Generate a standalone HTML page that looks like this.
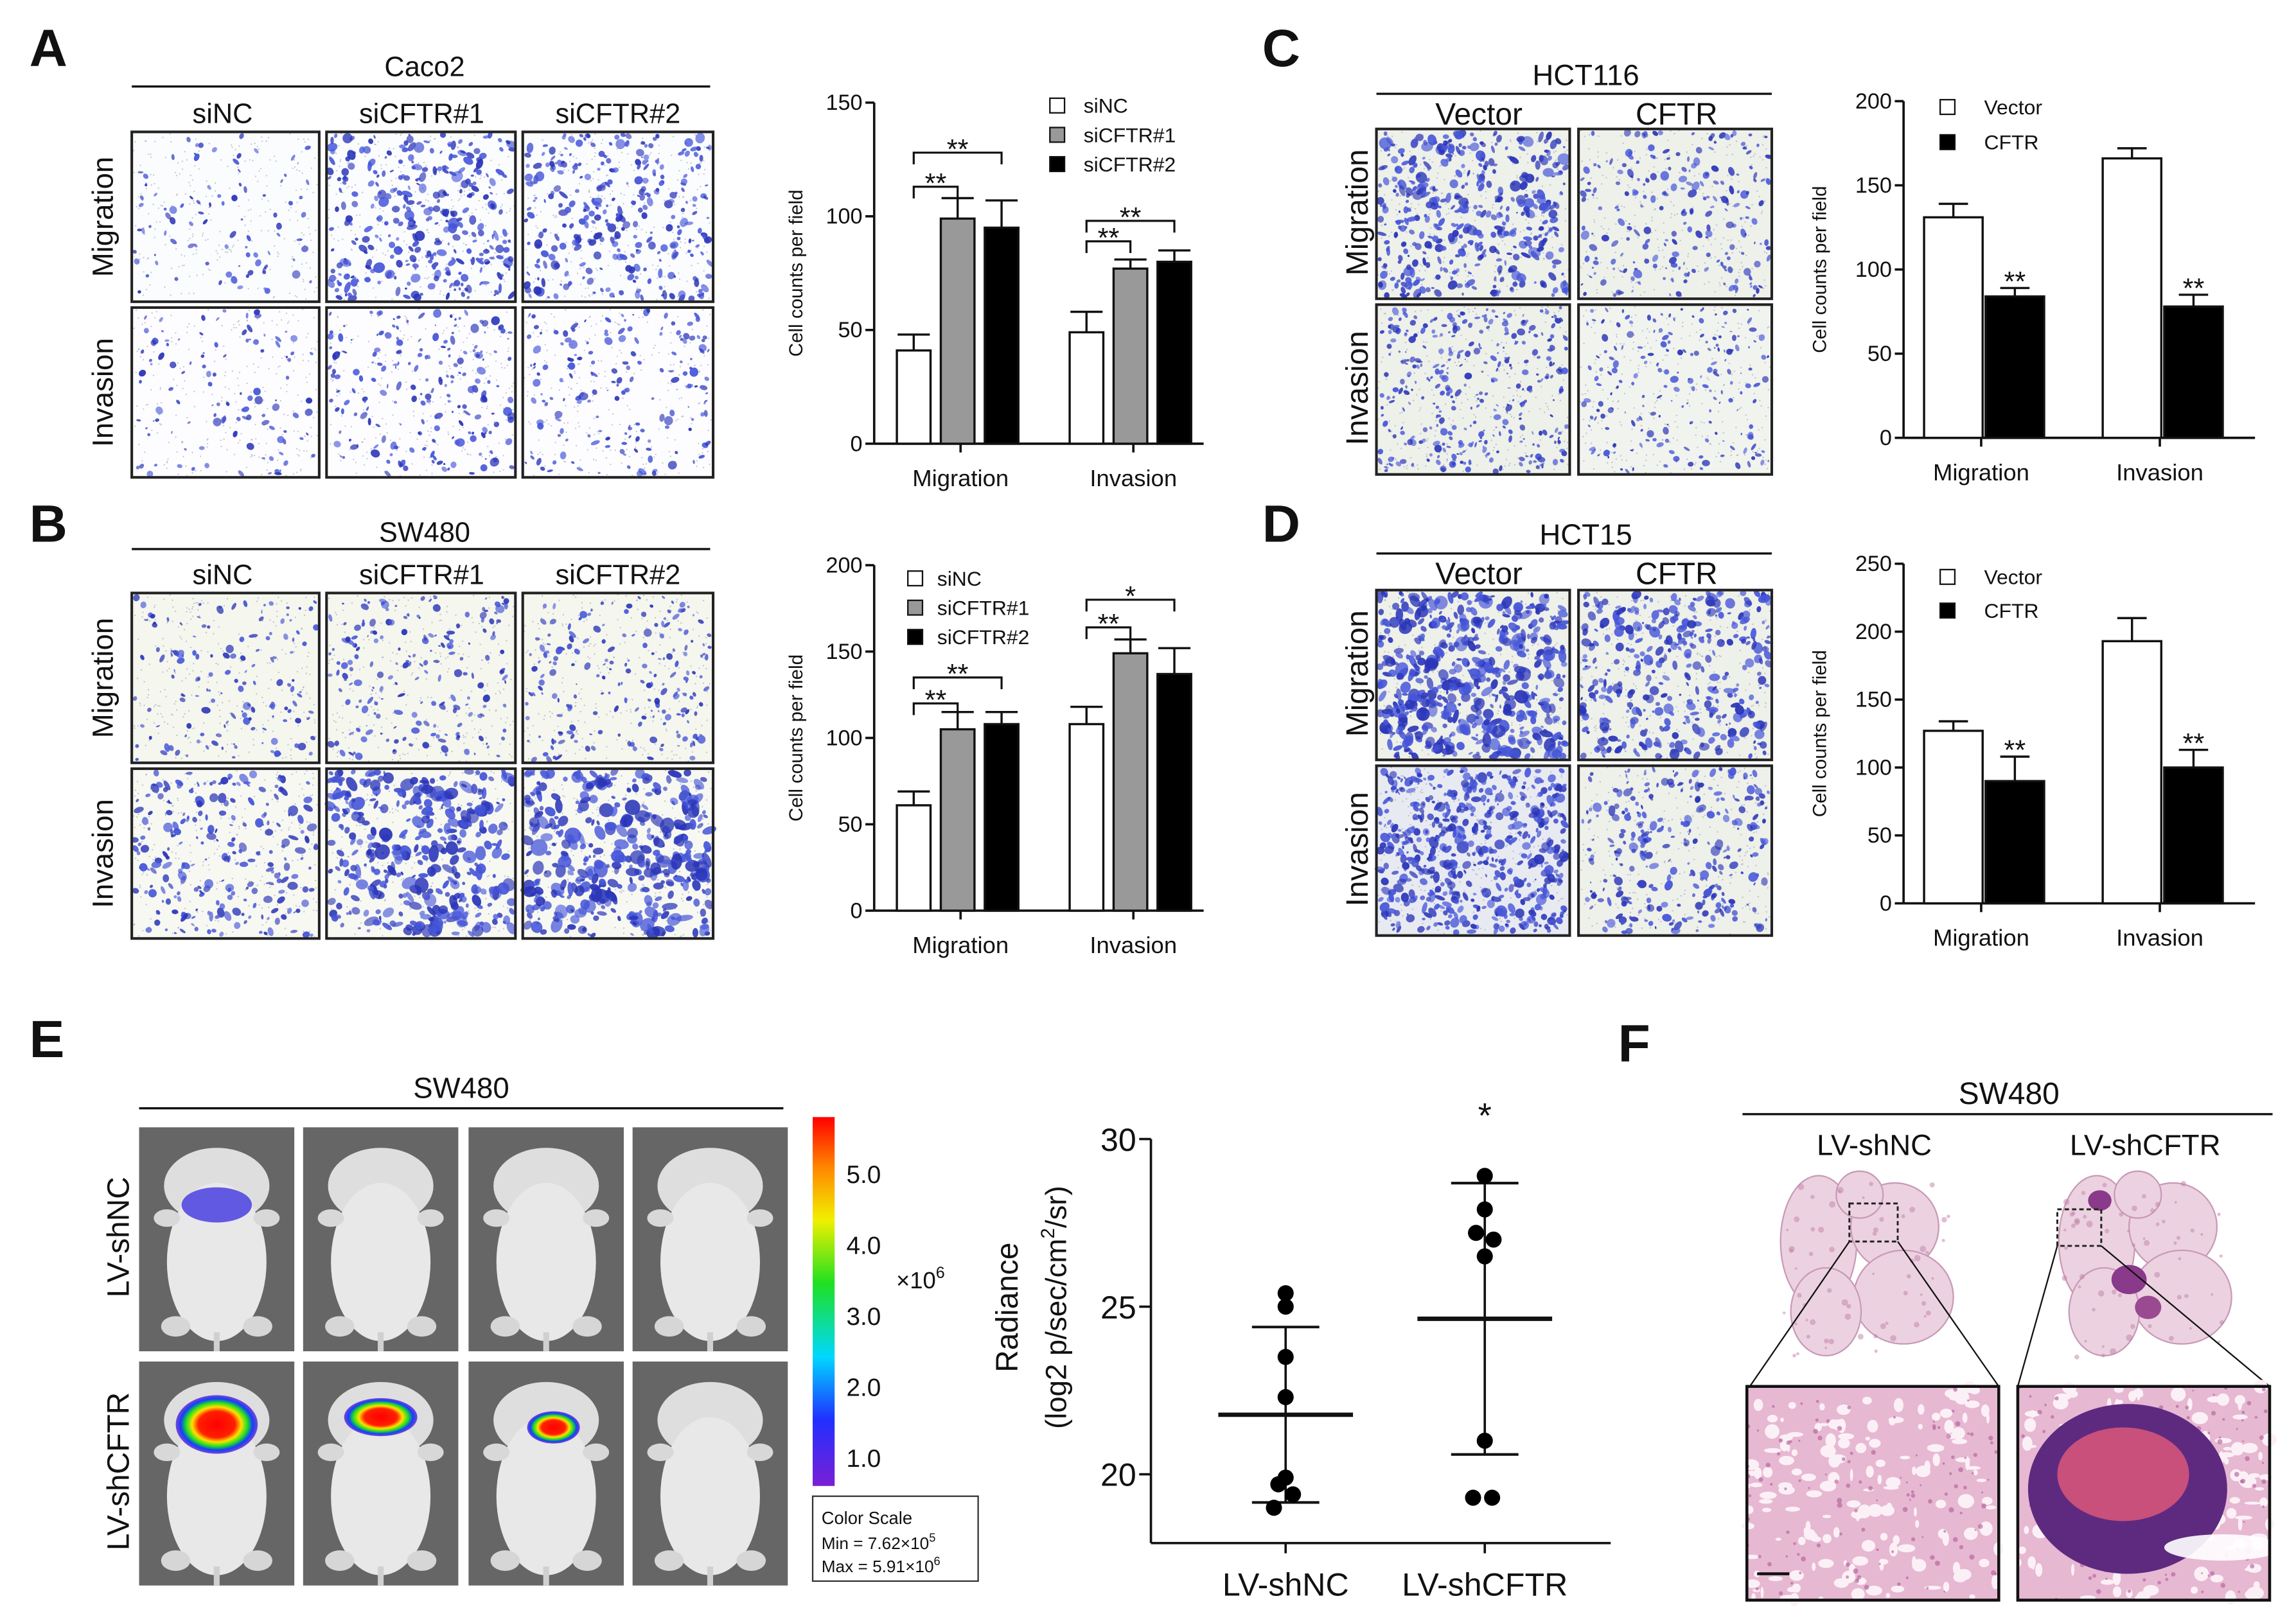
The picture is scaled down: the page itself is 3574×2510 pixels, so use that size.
<!DOCTYPE html>
<html><head><meta charset="utf-8"><style>
html,body{margin:0;padding:0;background:#fff}
svg{display:block}
text{font-family:"Liberation Sans",Arial,sans-serif;fill:#111}
</style></head><body>
<svg id="fig" xmlns="http://www.w3.org/2000/svg" width="3574" height="2510" viewBox="0 0 1568 1101">
<defs>
<linearGradient id="cbar" x1="0" y1="1" x2="0" y2="0">
<stop offset="0" stop-color="#7a1fd6"/><stop offset="0.18" stop-color="#2030ff"/><stop offset="0.35" stop-color="#00d8ff"/><stop offset="0.55" stop-color="#20e020"/><stop offset="0.72" stop-color="#f0f000"/><stop offset="0.86" stop-color="#ff8a00"/><stop offset="1" stop-color="#ff0000"/>
</linearGradient>
<radialGradient id="hot"><stop offset="0" stop-color="#ff0000"/><stop offset="0.45" stop-color="#ff2000"/><stop offset="0.6" stop-color="#ffe000"/><stop offset="0.75" stop-color="#20e020"/><stop offset="0.88" stop-color="#1040ff"/><stop offset="1" stop-color="#6020d0" stop-opacity="0.8"/></radialGradient>
</defs>
<g id="layer"></g>
</svg>
<script>
// ---------- chart data ----------
const barCats = ["Migration","Invasion"];
// A (Caco2)
const aSiNC = [41, 49];
const aSiNCErr = [7, 9];
const aSi1 = [99, 77];
const aSi1Err = [9, 4];
const aSi2 = [95, 80];
const aSi2Err = [12, 5];
const aTicks = [0, 50, 100, 150];
// B (SW480)
const bSiNC = [61, 108];
const bSiNCErr = [8, 10];
const bSi1 = [105, 149];
const bSi1Err = [10, 8];
const bSi2 = [108, 137];
const bSi2Err = [7, 15];
const bTicks = [0, 50, 100, 150, 200];
// C (HCT116)
const cVector = [131, 166];
const cVectorErr = [8, 6];
const cCFTR = [84, 78];
const cCFTRErr = [5, 7];
const cTicks = [0, 50, 100, 150, 200];
// D (HCT15)
const dVector = [127, 193];
const dVectorErr = [7, 17];
const dCFTR = [90, 100];
const dCFTRErr = [18, 13];
const dTicks = [0, 50, 100, 150, 200, 250];
// E scatter
const eGroups = ["LV-shNC","LV-shCFTR"];
const eShNC = [25.4, 25.0, 23.5, 22.3, 19.9, 19.7, 19.4, 19.0];
const eShCFTR = [28.9, 27.9, 27.2, 27.0, 26.5, 21.0, 19.3, 19.3];
const eTicks = [20, 25, 30];
const eColorTicks = ["5.0","4.0","3.0","2.0","1.0"];

const NS="http://www.w3.org/2000/svg";
const root=document.getElementById('layer');
function mk(tag,attrs,parent,txt){const e=document.createElementNS(NS,tag);for(const k in attrs)e.setAttribute(k,attrs[k]);if(txt!==undefined)e.textContent=txt;(parent||root).appendChild(e);return e;}
function line(x1,y1,x2,y2,w,p,c){return mk('line',{x1,y1,x2,y2,stroke:c||'#111','stroke-width':w||1.5},p);}

let seed=12345;function rnd(){seed=(seed*16807)%2147483647;return (seed-1)/2147483646;}

function panelLetter(t,x,y){const e=mk('text',{x,y,'font-size':36,'font-weight':'bold'},root,t);

}

function micro(x,y,w,h,n,rmin,rmax,bg,name){
 const g=mk('g',{});
 
 
 mk('rect',{x,y,width:w,height:h,fill:bg},g);
 for(let i=0;i<260;i++){mk('circle',{cx:x+1+rnd()*(w-2),cy:y+1+rnd()*(h-2),r:0.5,fill:'#8890a8','fill-opacity':0.5},g);}
 for(let i=0;i<n;i++){const r=rmin+rnd()*(rmax-rmin);const cx=x+2+rnd()*(w-4),cy=y+2+rnd()*(h-4);
  const rx=Math.min(r*(0.5+rnd()*1.0),cx-x,x+w-cx),ry=Math.min(r*(0.5+rnd()*1.0),cy-y,y+h-cy);
  mk('ellipse',{cx,cy,rx:Math.max(rx,0.3),ry:Math.max(ry,0.3),fill:rnd()<0.5?'#2a35b8':'#4555d8','fill-opacity':0.6+rnd()*0.35,transform:`rotate(${Math.floor(rnd()*180)} ${cx} ${cy})`},g);}
 mk('rect',{x,y,width:w,height:h,fill:'none',stroke:'#222','stroke-width':1.8},g);
}
function rowLabel(t,x,cy,name,fs){const e=mk('text',{x,y:cy,'font-size':fs||20,'text-anchor':'middle',transform:`rotate(-90 ${x} ${cy})`},root,t);

}
function ctext(t,x,y,fs,name,anchor){const e=mk('text',{x,y,'font-size':fs,'text-anchor':anchor||'middle'},root,t);

return e;}

// ---------- Bar chart ----------
function barChart(o){
 const g=mk('g',{});
 
 
 const yS=v=>o.y0-(v/o.ymax)*(o.y0-o.yTop);
 const xC=i=>o.x0+o.pad+(i+0.5)*o.band;
 line(o.x0,o.yTop,o.x0,o.y0,1.6,g);
 line(o.x0,o.y0,o.xEnd,o.y0,1.6,g);
 o.ticks.forEach(t=>{line(o.x0-6,yS(t),o.x0,yS(t),1.6,g);
  const tl=mk('text',{x:o.x0-8,y:yS(t)+5,'font-size':15,'text-anchor':'end'},g,String(t));
  
  });
 const yt=mk('text',{x:o.ytX,y:(o.y0+o.yTop)/2,'font-size':13,'text-anchor':'middle',transform:`rotate(-90 ${o.ytX} ${(o.y0+o.yTop)/2})`},g,'Cell counts per field');
 
 
 barCats.forEach((c,i)=>{line(xC(i),o.y0,xC(i),o.y0+6,1.6,g);
  const cl=mk('text',{x:xC(i),y:o.y0+29,'font-size':16,'text-anchor':'middle'},g,c);
  
  });
 o.series.forEach((s,si)=>{
  s.vals.forEach((v,i)=>{
   const cx=xC(i)+o.offs[si];const top=yS(v);const et=yS(v+s.err[i]);
   line(cx,top,cx,et,1.5,g);line(cx-o.capW,et,cx+o.capW,et,1.5,g);
   const b=mk('rect',{x:cx-o.bw/2,y:top,width:o.bw,height:o.y0-top,fill:s.fill,stroke:'#111','stroke-width':1.5},g);
   
   
   if(s.star){const st=mk('text',{x:cx,y:et+2,'font-size':19,'text-anchor':'middle'},g,'**');
    
    }
  });
 });
 o.series.forEach((s,si)=>{const ly=o.legY+si*o.legDy;
  const r=mk('rect',{x:o.legX,y:ly-10,width:10,height:10,fill:s.fill,stroke:'#111','stroke-width':1},g);
  
  
  const t=mk('text',{x:o.legX+o.legTx,y:ly,'font-size':14},g,s.label);
  
  });
 (o.brackets||[]).forEach(b=>{
  const x1=xC(b.cat)+o.offs[0],x2=xC(b.cat)+o.offs[b.to];
  const by=yS(b.at);
  mk('path',{d:`M${x1} ${by+8}V${by}H${x2}V${by+8}`,fill:'none',stroke:'#111','stroke-width':1.4},g);
  const st=mk('text',{x:(x1+x2)/2,y:by+4,'font-size':19,'text-anchor':'middle'},g,b.txt);
  
  
 });
}

// ---------- Panel A ----------
panelLetter('A',20,45);
ctext('Caco2',290,52,19,'panel-a-title');line(90,59,485,59,1.5);
ctext('siNC',152,84,19,'col-label-sinc');ctext('siCFTR#1',288,84,19,'col-label-sicftr1');ctext('siCFTR#2',422,84,19,'col-label-sicftr2');
rowLabel('Migration',77,148,'row-label-migration');rowLabel('Invasion',77,268,'row-label-invasion');
const colsA=[[90,128],[223,129],[357,130]];
[[90,0.8,2],[320,1,2.8],[300,1,2.6]].forEach((p,i)=>micro(colsA[i][0],90,colsA[i][1],116,p[0],p[1],p[2],'#fbfcfe','micrograph-a-migration-'+(i+1)));
[[110,0.8,2.2],[200,0.8,2.3],[170,0.8,2.3]].forEach((p,i)=>micro(colsA[i][0],210,colsA[i][1],116,p[0],p[1],p[2],'#fdfdff','micrograph-a-invasion-'+(i+1)));
barChart({name:'chart-a',x0:597,xEnd:822,y0:303,yTop:70,ymax:150,ticks:aTicks,pad:0,band:118,offs:[-32,-2,28],bw:23,capW:11,ytX:548,
 series:[{key:'sinc',label:'siNC',fill:'#fff',vals:aSiNC,err:aSiNCErr},{key:'sicftr1',label:'siCFTR#1',fill:'#999',vals:aSi1,err:aSi1Err},{key:'sicftr2',label:'siCFTR#2',fill:'#000',vals:aSi2,err:aSi2Err}],
 legX:717,legY:77,legDy:20,legTx:23,
 brackets:[{cat:0,to:1,at:113,txt:'**'},{cat:0,to:2,at:128,txt:'**'},{cat:1,to:1,at:89,txt:'**'},{cat:1,to:2,at:98,txt:'**'}]});

// ---------- Panel B ----------
panelLetter('B',20,370);
ctext('SW480',290,370,19,'panel-b-title');line(90,375,485,375,1.5);
ctext('siNC',152,399,19,'col-label-sinc');ctext('siCFTR#1',288,399,19,'col-label-sicftr1');ctext('siCFTR#2',422,399,19,'col-label-sicftr2');
rowLabel('Migration',77,463,'row-label-migration');rowLabel('Invasion',77,583,'row-label-invasion');
[[140,0.8,2.2],[190,0.8,2.2],[190,0.8,2.2]].forEach((p,i)=>micro(colsA[i][0],405,colsA[i][1],116,p[0],p[1],p[2],'#f5f6ee','micrograph-b-migration-'+(i+1)));
[[230,0.8,2.8],[360,1.2,4],[380,1.2,4.2]].forEach((p,i)=>micro(colsA[i][0],525,colsA[i][1],116,p[0],p[1],p[2],'#f7f8f2','micrograph-b-invasion-'+(i+1)));
barChart({name:'chart-b',x0:597,xEnd:822,y0:622,yTop:386,ymax:200,ticks:bTicks,pad:0,band:118,offs:[-32,-2,28],bw:23,capW:11,ytX:548,
 series:[{key:'sinc',label:'siNC',fill:'#fff',vals:bSiNC,err:bSiNCErr},{key:'sicftr1',label:'siCFTR#1',fill:'#999',vals:bSi1,err:bSi1Err},{key:'sicftr2',label:'siCFTR#2',fill:'#000',vals:bSi2,err:bSi2Err}],
 legX:620,legY:400,legDy:20,legTx:20,
 brackets:[{cat:0,to:1,at:120,txt:'**'},{cat:0,to:2,at:135,txt:'**'},{cat:1,to:1,at:164,txt:'**'},{cat:1,to:2,at:180,txt:'*'}]});

// ---------- Panel C ----------
panelLetter('C',862,45);
ctext('HCT116',1083,58,20,'panel-c-title');line(940,64,1210,64,1.5);
ctext('Vector',1010,85,21,'col-label-vector');ctext('CFTR',1145,85,21,'col-label-cftr');
rowLabel('Migration',934,145,'row-label-migration',21);rowLabel('Invasion',934,265,'row-label-invasion',21);
micro(940,88,132,116,420,1,3,'#eef0ea','micrograph-c-migration-vector');
micro(1078,88,132,116,220,0.8,2.3,'#eef0ea','micrograph-c-migration-cftr');
micro(940,208,132,116,340,0.7,2,'#eef0ea','micrograph-c-invasion-vector');
micro(1078,208,132,116,190,0.7,2,'#f1f3ee','micrograph-c-invasion-cftr');
barChart({name:'chart-c',x0:1300,xEnd:1540,y0:299,yTop:69,ymax:200,ticks:cTicks,pad:-8,band:122,offs:[-19,23],bw:40,capW:10,ytX:1247,
 series:[{key:'vector',label:'Vector',fill:'#fff',vals:cVector,err:cVectorErr},{key:'cftr',label:'CFTR',fill:'#000',vals:cCFTR,err:cCFTRErr,star:true}],
 legX:1325,legY:78,legDy:24,legTx:30});

// ---------- Panel D ----------
panelLetter('D',862,370);
ctext('HCT15',1083,372,20,'panel-d-title');line(940,378,1210,378,1.5);
ctext('Vector',1010,399,21,'col-label-vector');ctext('CFTR',1145,399,21,'col-label-cftr');
rowLabel('Migration',934,460,'row-label-migration',21);rowLabel('Invasion',934,580,'row-label-invasion',21);
micro(940,403,132,116,520,1.2,3.6,'#eef0ea','micrograph-d-migration-vector');
micro(1078,403,132,116,360,1,3,'#eef0ea','micrograph-d-migration-cftr');
micro(940,523,132,116,560,1,2.8,'#e8eaf2','micrograph-d-invasion-vector');
micro(1078,523,132,116,280,0.8,2.6,'#eef0ea','micrograph-d-invasion-cftr');
barChart({name:'chart-d',x0:1300,xEnd:1540,y0:617,yTop:385,ymax:250,ticks:dTicks,pad:-8,band:122,offs:[-19,23],bw:40,capW:10,ytX:1247,
 series:[{key:'vector',label:'Vector',fill:'#fff',vals:dVector,err:dVectorErr},{key:'cftr',label:'CFTR',fill:'#000',vals:dCFTR,err:dCFTRErr,star:true}],
 legX:1325,legY:399,legDy:23,legTx:30});

// ---------- Panel E ----------
panelLetter('E',20,722);
ctext('SW480',315,750,20,'panel-e-title');line(95,757,535,757,1.5);
rowLabel('LV-shNC',88,845,'row-label-lv-shnc',21);rowLabel('LV-shCFTR',88,1005,'row-label-lv-shcftr',21);
const mx=[95,207,320,432];
function mouse(x,y,i,row){
 const g=mk('g',{});
 
 
 mk('rect',{x,y,width:106,height:153,fill:'#666'},g);
 const cx=x+53;
 mk('ellipse',{cx,cy:y+40,rx:36,ry:26,fill:'#dedede'},g);
 mk('ellipse',{cx,cy:y+92,rx:34,ry:54,fill:'#e8e8e8'},g);
 mk('ellipse',{cx:cx-34,cy:y+62,rx:9,ry:6,fill:'#d8d8d8'},g);
 mk('ellipse',{cx:cx+34,cy:y+62,rx:9,ry:6,fill:'#d8d8d8'},g);
 mk('ellipse',{cx:cx-28,cy:y+136,rx:10,ry:7,fill:'#d6d6d6'},g);
 mk('ellipse',{cx:cx+28,cy:y+136,rx:10,ry:7,fill:'#d6d6d6'},g);
 mk('rect',{x:cx-2,y:y+140,width:4,height:13,fill:'#d0d0d0'},g);
 return g;
}
mx.forEach((x,i)=>mouse(x,770,i,'shnc'));
mx.forEach((x,i)=>mouse(x,930,i,'shcftr'));
mk('ellipse',{cx:148,cy:823,rx:24,ry:12,fill:'#4a40e0','fill-opacity':0.85});
mk('ellipse',{cx:148,cy:973,rx:28,ry:20,fill:'url(#hot)'});
mk('ellipse',{cx:260,cy:968,rx:25,ry:13,fill:'url(#hot)'});
mk('ellipse',{cx:378,cy:975,rx:18,ry:11,fill:'url(#hot)'});
const cb=mk('rect',{x:555,y:763,width:15,height:252,fill:'url(#cbar)'});


eColorTicks.forEach((t,i)=>ctext(t,578,808+i*48.5,17,'color-scale-tick','start'));
const x6=ctext('×10',612,880,16,'color-scale-exponent','start');
mk('tspan',{dy:-7,'font-size':11},x6,'6');
const csb=mk('rect',{x:555,y:1022,width:113,height:58,fill:'#fff',stroke:'#333','stroke-width':1});


ctext('Color Scale',561,1041,12,'color-scale-title','start');
const mn=ctext('Min = 7.62×10',561,1058,11.5,'color-scale-min','start');mk('tspan',{dy:-5,'font-size':8},mn,'5');
const mxx=ctext('Max = 5.91×10',561,1074,11.5,'color-scale-max','start');mk('tspan',{dy:-5,'font-size':8},mxx,'6');

// scatter chart E
(function(){
 const g=mk('g',{});
 
 
 const x0=786,y20=1007,y30=778,yBase=1054;
 const yS=v=>y20-(v-20)*(y20-y30)/10;
 const xG=i=>878+i*136;
 line(x0,y30,x0,yBase,1.6,g);line(x0,yBase,1100,yBase,1.6,g);
 eTicks.forEach(t=>{line(x0-8,yS(t),x0,yS(t),1.6,g);
  const tl=mk('text',{x:x0-10,y:yS(t)+8,'font-size':22,'text-anchor':'end'},g,String(t));
  
  });
 const yt1=mk('text',{x:695,y:893,'font-size':21,'text-anchor':'middle',transform:'rotate(-90 695 893)'},g,'Radiance');
 
 
 const yt2=mk('text',{x:728,y:893,'font-size':20,'text-anchor':'middle',transform:'rotate(-90 728 893)'},g,'(log2 p/sec/cm');
 
 
 mk('tspan',{dy:-8,'font-size':13},yt2,'2');mk('tspan',{dy:8},yt2,'/sr)');
 const jit=[-6,6,-6,6,0,-5,5,-8];
 [eShNC,eShCFTR].forEach((arr,gi)=>{
  const cx=xG(gi);
  line(cx,yBase,cx,yBase+7,1.6,g);
  const gl=mk('text',{x:cx,y:yBase+36,'font-size':22,'text-anchor':'middle'},g,eGroups[gi]);
  
  
  const m=arr.reduce((a,b)=>a+b,0)/arr.length;
  const sd=Math.sqrt(arr.reduce((a,b)=>a+(b-m)*(b-m),0)/(arr.length-1));
  line(cx,yS(m+sd),cx,yS(m-sd),1.6,g);
  line(cx-23,yS(m+sd),cx+23,yS(m+sd),1.8,g);line(cx-23,yS(m-sd),cx+23,yS(m-sd),1.8,g);
  line(cx-46,yS(m),cx+46,yS(m),3,g);
  arr.forEach((v,i)=>{const p=mk('circle',{cx:cx+(i>=4&&gi===0||i>=2&&i<=4&&gi===1||i>=6?jit[i]:0),cy:yS(v),r:5.5,fill:'#000'},g);
   
   });
 });
 const st=mk('text',{x:xG(1),y:770,'font-size':24,'text-anchor':'middle'},g,'*');
 
 
})();

// ---------- Panel F ----------
panelLetter('F',1105,725);
ctext('SW480',1372,754,21,'panel-f-title');line(1190,761,1552,761,1.5);
ctext('LV-shNC',1280,789,20,'col-label-lv-shnc');ctext('LV-shCFTR',1465,789,20,'col-label-lv-shcftr');
function lung(cx,cy,name,tumor){
 const g=mk('g',{});
 
 
 [[cx-30,cy-20,26,45],[cx+22,cy-30,30,30],[cx+28,cy+18,34,32],[cx-25,cy+28,24,30],[cx-2,cy-52,16,16]].forEach(e=>mk('ellipse',{cx:e[0],cy:e[1],rx:e[2],ry:e[3],fill:'#ecd2e0',stroke:'#c99ab8','stroke-width':1},g));
 for(let i=0;i<60;i++)mk('circle',{cx:cx-55+rnd()*115,cy:cy-60+rnd()*120,r:0.8+rnd()*1.5,fill:'#c080a8','fill-opacity':0.5},g);
 if(tumor){mk('ellipse',{cx:cx-8,cy:cy+6,rx:12,ry:10,fill:'#8a3a8a'},g);mk('ellipse',{cx:cx+5,cy:cy+25,rx:9,ry:8,fill:'#9a4a90'},g);mk('ellipse',{cx:cx-28,cy:cy-48,rx:8,ry:7,fill:'#8a3a8a'},g);}
}
lung(1272,868,'lung-section-shnc',false);
lung(1462,868,'lung-section-shcftr',true);
mk('rect',{x:1263,y:822,width:33,height:26,fill:'none',stroke:'#222','stroke-width':1.3,'stroke-dasharray':'3,2'});
mk('rect',{x:1405,y:826,width:30,height:25,fill:'none',stroke:'#222','stroke-width':1.3,'stroke-dasharray':'3,2'});
line(1263,848,1195,947,1);line(1296,848,1365,947,1);
line(1405,851,1378,947,1);line(1435,851,1550,947,1);
function histo(x,y,w,h,name,tumor){
 const g=mk('g',{});
 
 
 mk('rect',{x,y,width:w,height:h,fill:'#e7b8d2'},g);
 for(let i=0;i<160;i++)mk('ellipse',{cx:x+rnd()*w,cy:y+rnd()*h,rx:1+rnd()*5,ry:1+rnd()*4,fill:'#fbf0f6'},g);
 for(let i=0;i<120;i++)mk('circle',{cx:x+rnd()*w,cy:y+rnd()*h,r:0.6+rnd()*1.2,fill:'#b05a98','fill-opacity':0.6},g);
 if(tumor){mk('ellipse',{cx:x+75,cy:y+70,rx:68,ry:58,fill:'#5e2a80'},g);mk('ellipse',{cx:x+72,cy:y+60,rx:45,ry:32,fill:'#c8507a'},g);mk('ellipse',{cx:x+140,cy:y+110,rx:40,ry:9,fill:'#fff','fill-opacity':0.9},g);}
 mk('rect',{x,y,width:w,height:h,fill:'none',stroke:'#111','stroke-width':2},g);
}
histo(1193,947,172,146,'histology-zoom-shnc',false);
histo(1378,947,172,146,'histology-zoom-shcftr',true);
line(1200,1075,1222,1075,2);
</script>
</body></html>
